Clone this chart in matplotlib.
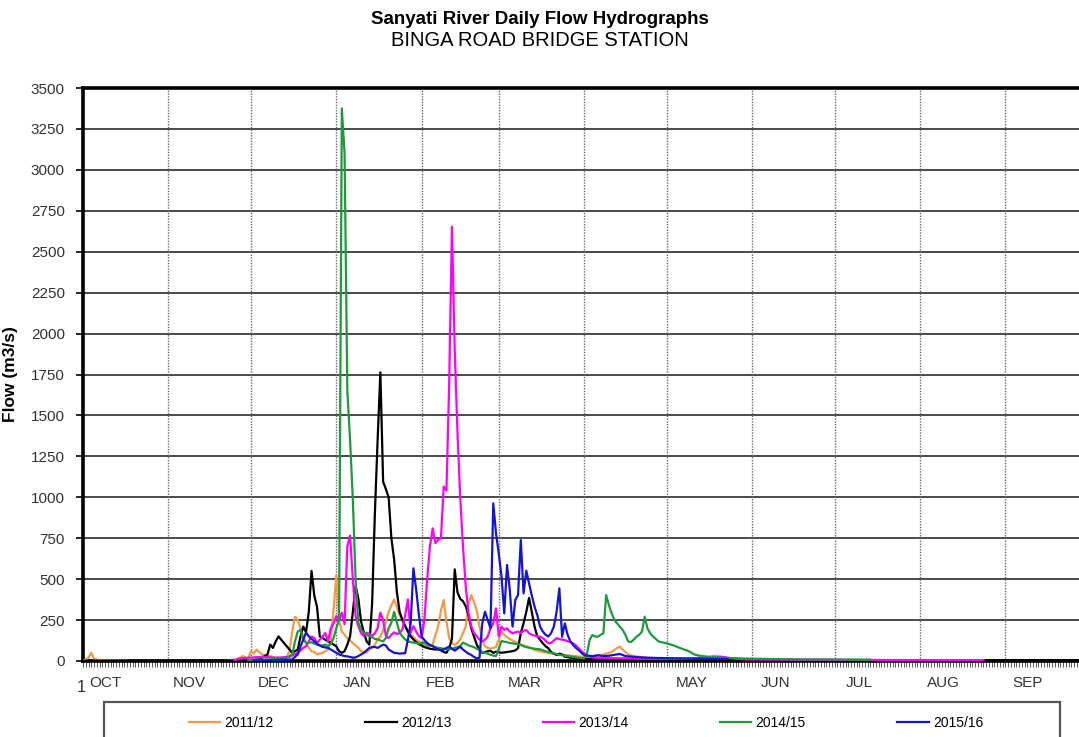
import numpy as np
import matplotlib
matplotlib.use("Agg")
import matplotlib.pyplot as plt
from matplotlib.patches import Rectangle
from matplotlib.ticker import MultipleLocator

plt.rcParams['font.family'] = ['Liberation Sans', 'DejaVu Sans']

# Day of hydrological year (0 = 1 October) and daily flow in m3/s
days_2011 = [0, 1, 2, 3, 4, 5, 8, 12, 16, 30, 53, 56, 58, 60, 61, 62, 63, 64, 65, 66, 68, 70, 72, 74, 75, 76, 77, 78,
             79, 80, 81, 82, 83, 84, 85, 86, 87, 88, 89, 90, 91, 92, 93, 94, 95, 96, 97, 98, 99, 100, 101, 102,
             103, 104, 105, 106, 107, 108, 109, 110, 111, 112, 113, 114, 115, 116, 117, 118, 119, 120, 121, 122,
             123, 124, 125, 126, 127, 128, 129, 130, 131, 132, 133, 134, 135, 136, 137, 138, 139, 140, 141, 142,
             143, 144, 145, 146, 147, 148, 149, 150, 152, 153, 154, 156, 158, 160, 162, 164, 167, 170, 173, 176,
             180, 183, 186, 189, 192, 194, 195, 196, 198, 200, 205, 210, 220, 230, 240]
flow_2011 = [5, 8, 20, 50, 15, 8, 5, 4, 3, np.nan, 5, 10, 30, 15, 60, 45, 70, 55, 40, 35, 30, 20, 15, 25, 60, 180,
             270, 250, 200, 150, 110, 80, 60, 55, 40, 45, 50, 60, 70, 130, 310, 525, 250, 180, 160, 140, 125, 110,
             95, 80, 60, 55, 50, 70, 80, 100, 130, 150, 190, 240, 300, 340, 375, 330, 280, 250, 210, 180, 160, 148,
             130, 118, 110, 98, 90, 95, 100, 160, 210, 310, 373, 240, 140, 110, 98, 110, 130, 170, 210, 350, 403,
             360, 311, 210, 128, 90, 80, 75, 80, 85, 180, 160, 145, 125, 108, 95, 85, 67, 55, 47, 40, 35, 28, 26,
             30, 40, 55, 80, 87, 70, 40, 30, 20, 15, 12, 10, 8]

days_2012 = [0, 30, 57, 60, 64, 66, 67, 68, 69, 70, 71, 72, 73, 74, 75, 76, 77, 78, 79, 80, 81, 82, 83, 84, 85, 86,
             87, 88, 89, 90, 91, 92, 93, 94, 95, 96, 97, 98, 99, 100, 101, 102, 103, 104, 105, 106, 107, 108, 109,
             110, 111, 112, 113, 114, 115, 116, 117, 118, 119, 120, 121, 122, 123, 124, 125, 126, 127, 128, 129,
             130, 131, 132, 133, 134, 135, 136, 137, 138, 139, 140, 141, 142, 143, 144, 145, 146, 147, 148, 149,
             150, 152, 154, 156, 157, 158, 159, 160, 161, 162, 163, 164, 165, 166, 167, 168, 169, 170, 171, 172,
             173, 174, 175, 177, 180, 185, 195, 210, 240, 280, 320, 364]
flow_2012 = [2, 2, 3, 5, 10, 30, 40, 100, 80, 120, 150, 130, 110, 90, 70, 50, 60, 70, 150, 210, 175, 300, 550, 400,
             330, 150, 140, 130, 120, 112, 100, 90, 60, 50, 60, 100, 150, 300, 460, 380, 240, 175, 120, 100, 350,
             900, 1350, 1763, 1095, 1050, 1000, 750, 620, 420, 300, 250, 215, 180, 150, 132, 115, 102, 95, 85, 80,
             75, 72, 70, 72, 65, 55, 50, 80, 135, 560, 420, 380, 365, 335, 280, 200, 150, 100, 70, 50, 55, 60, 62,
             50, 57, 50, 55, 60, 65, 78, 170, 230, 300, 385, 300, 210, 150, 130, 108, 90, 78, 55, 45, 37, 45, 40,
             26, 20, 15, 12, 10, 8, 6, 5, 5, 5]

days_2013 = [55, 57, 60, 65, 70, 75, 78, 80, 81, 82, 83, 84, 85, 86, 87, 88, 89, 90, 91, 92, 93, 94, 95, 96, 97, 98,
             99, 100, 101, 102, 103, 104, 105, 106, 107, 108, 109, 110, 111, 112, 113, 114, 115, 116, 117, 118,
             119, 120, 121, 122, 123, 124, 125, 126, 127, 128, 129, 130, 131, 132, 133, 134, 135, 136, 137, 138,
             139, 140, 141, 142, 143, 144, 145, 146, 147, 148, 149, 150, 151, 152, 153, 154, 155, 156, 157, 158,
             159, 160, 161, 162, 163, 164, 165, 166, 167, 168, 169, 170, 171, 172, 173, 174, 175, 176, 177, 178,
             179, 180, 181, 182, 183, 184, 186, 190, 200, 210, 220, 226, 229, 232, 235, 240, 260, 290, 327]
flow_2013 = [5, 15, 20, 25, 20, 25, 50, 80, 90, 120, 150, 140, 110, 130, 150, 170, 120, 200, 230, 275, 250, 295,
             224, 700, 766, 500, 274, 213, 170, 152, 173, 165, 152, 170, 200, 295, 250, 152, 140, 160, 175, 165,
             170, 193, 280, 376, 173, 213, 180, 152, 140, 254, 498, 700, 810, 720, 740, 750, 1065, 1040, 1700,
             2653, 1900, 1400, 1000, 700, 457, 295, 213, 173, 150, 132, 120, 130, 150, 200, 230, 322, 150, 210,
             190, 200, 180, 169, 175, 180, 170, 185, 189, 170, 160, 155, 150, 148, 140, 125, 108, 110, 125, 139,
             135, 130, 128, 120, 115, 108, 95, 78, 60, 47, 35, 26, 20, 18, 15, 12, 15, 22, 28, 26, 18, 10, 8, 6, 5]

days_2014 = [60, 65, 70, 74, 76, 77, 78, 79, 80, 81, 82, 83, 84, 85, 86, 87, 88, 89, 90, 91, 92, 93, 94, 95, 96, 97,
             98, 99, 100, 101, 102, 103, 104, 105, 106, 107, 108, 109, 110, 111, 112, 113, 114, 115, 116, 117, 118,
             119, 120, 121, 122, 123, 124, 125, 126, 127, 128, 129, 130, 131, 132, 133, 134, 135, 136, 137, 138,
             139, 140, 141, 142, 143, 144, 145, 146, 147, 148, 149, 150, 152, 153, 154, 155, 156, 157, 158, 159,
             160, 161, 162, 163, 164, 166, 168, 170, 172, 174, 176, 178, 180, 182, 183, 184, 185, 186, 187, 188,
             189, 190, 191, 192, 193, 194, 195, 196, 197, 198, 199, 200, 201, 202, 203, 204, 205, 206, 207, 208,
             209, 210, 212, 214, 216, 218, 220, 222, 224, 226, 228, 232, 240, 250, 260, 270, 286]
flow_2014 = [5, 8, 12, 20, 40, 120, 180, 190, 130, 112, 110, 115, 105, 100, 95, 95, 100, 92, 105, 140, 200, 250,
             3375, 3100, 1650, 1350, 986, 498, 234, 190, 173, 160, 152, 145, 135, 132, 125, 120, 140, 200, 234,
             300, 234, 173, 150, 132, 120, 115, 112, 110, 105, 110, 112, 100, 95, 91, 85, 81, 78, 75, 72, 72, 75,
             80, 85, 91, 112, 105, 95, 90, 85, 75, 65, 55, 51, 45, 38, 33, 30, 122, 118, 115, 110, 108, 105, 102,
             98, 90, 85, 81, 78, 75, 71, 60, 50, 42, 35, 30, 25, 20, 16, 40, 128, 159, 150, 148, 160, 169, 403,
             340, 291, 250, 230, 210, 189, 160, 120, 115, 130, 148, 160, 179, 271, 200, 169, 150, 135, 120, 115,
             108, 98, 85, 72, 60, 40, 32, 28, 25, 20, 15, 12, 10, 9, 8]

days_2015 = [62, 70, 76, 78, 79, 80, 81, 82, 83, 84, 85, 86, 87, 88, 89, 90, 91, 92, 93, 94, 95, 96, 97, 98, 99, 100,
             101, 102, 103, 104, 105, 106, 107, 108, 109, 110, 111, 112, 113, 114, 115, 116, 117, 118, 119, 120,
             121, 122, 123, 124, 125, 126, 127, 128, 129, 130, 131, 132, 133, 134, 135, 136, 137, 138, 139, 140,
             141, 142, 143, 144, 145, 146, 147, 148, 149, 150, 151, 152, 153, 154, 155, 156, 157, 158, 159, 160,
             161, 162, 163, 164, 165, 166, 167, 168, 169, 170, 171, 172, 173, 174, 175, 176, 177, 178, 179, 180,
             181, 182, 183, 185, 187, 189, 191, 193, 195, 197, 200, 205, 210, 220, 234]
flow_2015 = [3, 5, 10, 40, 90, 130, 174, 150, 135, 120, 105, 95, 86, 83, 80, 70, 60, 50, 40, 35, 30, 28, 25, 20,
             22, 30, 40, 50, 65, 80, 85, 86, 80, 90, 100, 95, 70, 60, 50, 48, 45, 47, 47, 130, 230, 566, 437, 280,
             148, 128, 110, 98, 91, 78, 71, 67, 70, 80, 87, 75, 63, 75, 87, 70, 57, 45, 37, 25, 16, 20, 230, 301,
             250, 200, 963, 780, 658, 515, 291, 586, 434, 210, 373, 403, 739, 413, 552, 474, 400, 332, 280, 210,
             180, 160, 150, 170, 210, 300, 444, 148, 230, 160, 120, 98, 80, 67, 50, 37, 33, 30, 35, 30, 32, 38, 43,
             30, 25, 20, 18, 15, 12]

seasons = ['2011/12', '2012/13', '2013/14', '2014/15', '2015/16']
season_days = [days_2011, days_2012, days_2013, days_2014, days_2015]
season_flows = [flow_2011, flow_2012, flow_2013, flow_2014, flow_2015]
season_colors = ['#F39A45', '#000000', '#FF00FF', '#1E9A3C', '#1414D2']

month_names = ['OCT', 'NOV', 'DEC', 'JAN', 'FEB', 'MAR', 'APR', 'MAY', 'JUN', 'JUL', 'AUG', 'SEP']
month_starts = [0, 31, 61, 92, 123, 151, 182, 212, 243, 273, 304, 335]

W, H = 1079, 737
fig = plt.figure(figsize=(W / 100, H / 100), dpi=100)
ax = fig.add_axes([83 / W, 1 - 661 / H, (1088 - 83) / W, (661 - 88) / H])

for d, q, c, lab in zip(season_days, season_flows, season_colors, seasons):
    ax.plot(d, q, color=c, lw=1.6, label=lab, zorder=3, solid_joinstyle='round')

ax.set_xlim(0, 365)
ax.set_ylim(0, 3500)

# horizontal grid and y ticks
ax.set_yticks(np.arange(0, 3501, 250))
ax.yaxis.grid(True, color='#3c3c3c', lw=1.3, zorder=1)
ax.set_axisbelow(True)
for m in month_starts[1:]:
    ax.axvline(m, color='#6a6a6a', lw=1.0, ls=(0, (1, 1)), zorder=1)

ax.tick_params(axis='y', direction='out', length=5, width=1.2, pad=8, labelsize=11, labelcolor='#333333')

# month labels near the middle of each month, daily minor ticks
ax.set_xticks([8.3 + k * 365 / 12 for k in range(12)])
ax.set_xticklabels(month_names)
ax.tick_params(axis='x', which='major', length=0, pad=11, labelsize=11, labelcolor='#333333')
ax.xaxis.set_minor_locator(MultipleLocator(1))
ax.tick_params(axis='x', which='minor', direction='out', length=4, width=0.7, color='#555555')

for side in ['top', 'left', 'bottom']:
    ax.spines[side].set_linewidth(2.6)
    ax.spines[side].set_color('black')
ax.spines['right'].set_visible(False)

ax.set_ylabel('Flow (m3/s)', fontsize=12.5, fontweight='bold', labelpad=10)
ax.yaxis.set_label_coords(-(83 - 18) / (1088 - 83), 0.5)

fig.text(81 / W, 1 - 687 / H, '1', fontsize=12, ha='center', va='center', color='#333333')

fig.text(0.5, 1 - 20 / H, 'Sanyati River Daily Flow Hydrographs', ha='center', va='center',
         fontsize=13.5, fontweight='bold')
fig.text(0.5, 1 - 41 / H, 'BINGA ROAD BRIDGE STATION', ha='center', va='center', fontsize=14.5)

# legend box running off the bottom of the figure
fig.add_artist(Rectangle((104 / W, -0.05), (1060 - 104) / W, 0.05 + (737 - 702) / H,
                         transform=fig.transFigure, fill=False, edgecolor='#555555', lw=1.6))
fig.legend(loc='center left', bbox_to_anchor=(189 / W, 1 - 723 / H), ncol=5, frameon=False,
           fontsize=10, handlelength=2.25, handletextpad=0.3, columnspacing=6.6,
           borderpad=0, borderaxespad=0)

fig.savefig('out.png', dpi=100)
